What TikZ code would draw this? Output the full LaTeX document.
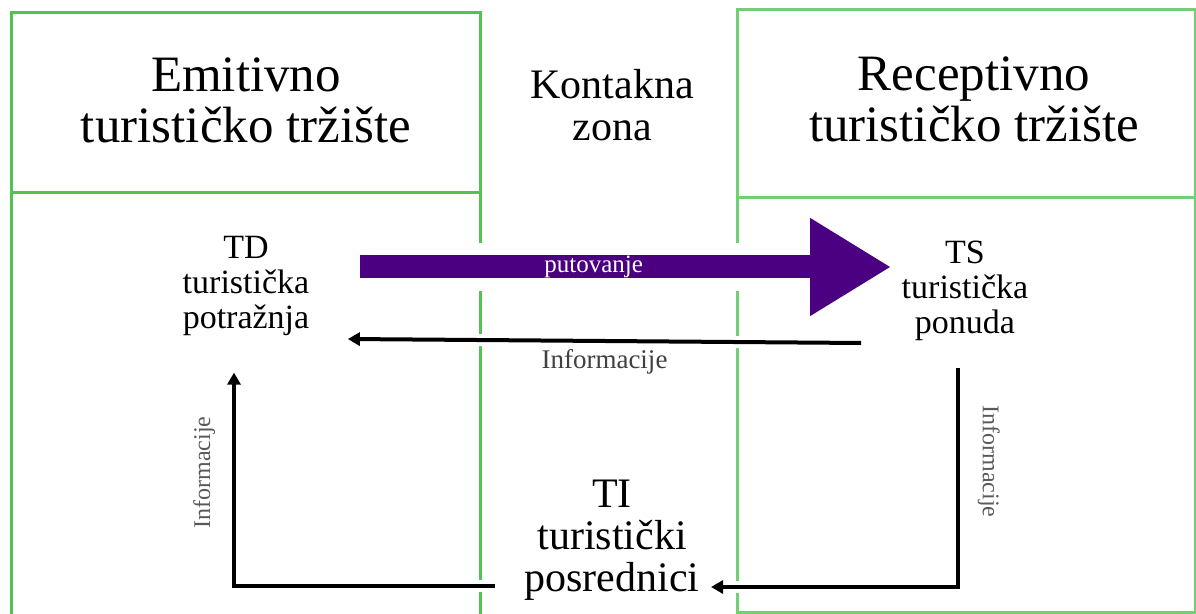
\documentclass[tikz,border=0pt]{standalone}
\usepackage{fontspec}
\setmainfont{Liberation Serif}
\usetikzlibrary{arrows.meta, calc}
\definecolor{zonegreen}{RGB}{80,195,80}
\definecolor{tripviolet}{RGB}{75,0,130}

\begin{document}
\begin{tikzpicture}[x=0.5pt, y=-0.5pt,
    zone/.style = {draw=zonegreen, line width=1.5pt},
    market/.style = {align=center, font=\fontsize{25.5pt}{25.5pt}\selectfont},
    contactzone/.style = {align=center, font=\fontsize{21pt}{21pt}\selectfont},
    actor/.style = {align=center, font=\fontsize{17pt}{17.5pt}\selectfont},
    info/.style = {line width=2pt, -{Triangle[length=6pt, width=6.5pt]},
                   preaction={draw=white, line width=6pt, arrows=-}},
    trip/.style = {tripviolet, line width=11.5pt, -{Triangle[length=40.5pt, width=46pt]},
                   preaction={draw=white, line width=24pt, arrows=-}},
    infotext/.style = {text=black!75, font=\fontsize{13.5pt}{14pt}\selectfont},
    sideinfo/.style = {sloped, text=black!65, font=\fontsize{12pt}{13pt}\selectfont}]
\useasboundingbox (0,0) rectangle (1196,614);

\draw[zone] (11,614) |- (480,13) -- (480,614);
\draw[zone] (11,193) -- (480,193);
\draw[zone, draw=zonegreen!80!white] (737,10) rectangle (1195,613);
\draw[zone, draw=zonegreen!80!white] (737,198) -- (1195,198);

\node[market] (emit) at (246,100) {Emitivno\\turističko tržište};
\node[market] (recep) at (974,99) {Receptivno\\turističko tržište};
\node[contactzone] (contact) at (612,105.5) {Kontakna\\zona};
\node[actor] (td) at (246,285.5) {TD\\turistička\\potražnja};
\node[actor] (ts) at (965,290.5) {TS\\turistička\\ponuda};
\node[contactzone] (ti) at (612,540.5) {TI\\turistički\\posrednici};

\draw[trip] ($(td.east)+(43.5,-18.5)$) -- ($(ts.west)+(-3.5,-23.5)$)
    node[pos=0.44, text=white, font=\fontsize{12.5pt}{13pt}\selectfont] {putovanje};
\draw[info] ($(ts.west)+(-33.5,52.5)$) -- ($(td.east)+(31.5,53.5)$)
    node[midway, below, infotext] {Informacije};
\draw[info] ($(ti.west)+(-22.5,45.5)$) -| ($(td.south)+(-12,30.3)$)
    node[pos=0.766, above=5pt, sideinfo] {Informacije};
\draw[info] ($(ts.south)+(-7,20.3)$) |- ($(ti.east)+(4.5,46.5)$)
    node[pos=0.214, above=5.5pt, sideinfo] {Informacije};
\end{tikzpicture}
\end{document}
